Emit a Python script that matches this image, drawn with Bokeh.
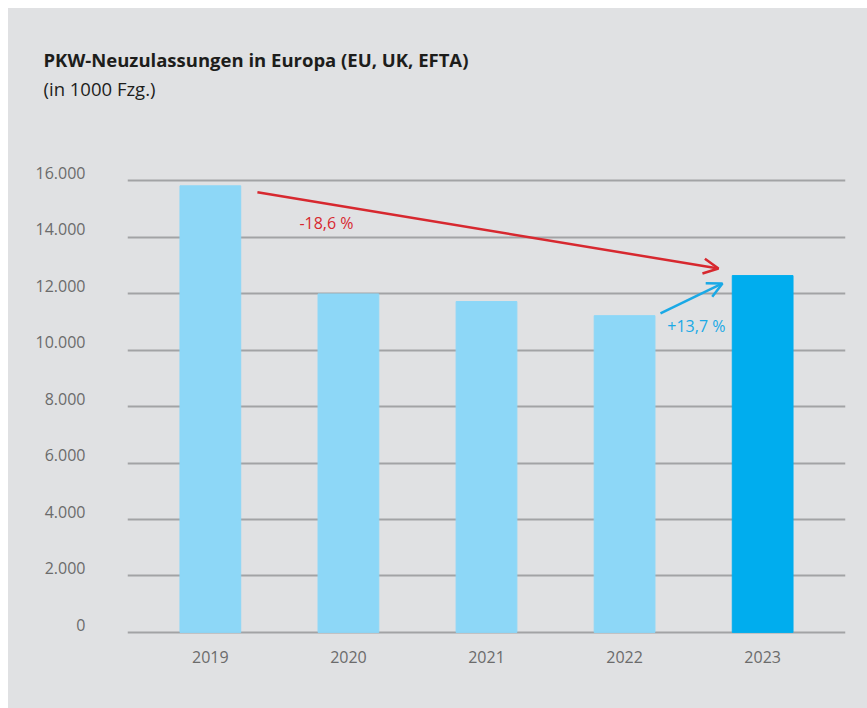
from bokeh.plotting import figure
from bokeh.models import Arrow, OpenHead, Label, FixedTicker, Range1d, ColumnDataSource, Title
from bokeh.embed import file_html
from bokeh.resources import INLINE

# --- data ---
years = ["2019", "2020", "2021", "2022", "2023"]
registrations = [15820, 11990, 11720, 11220, 12640]  # in 1000 vehicles
y_ticks = [0, 2000, 4000, 6000, 8000, 10000, 12000, 14000, 16000]
y_tick_labels = ["0", "2.000", "4.000", "6.000", "8.000", "10.000", "12.000", "14.000", "16.000"]
change_labels = ["-18,6 %", "+13,7 %"]

BG = "#e0e1e3"
LIGHT = "#8dd7f7"
DARK = "#00adee"
RED = "#d7282f"
BLUE = "#1aa9e6"
GREY_TXT = "#6b6b6b"
FONT = "Open Sans"

xs = list(range(len(years)))
colors = [LIGHT] * (len(years) - 1) + [DARK]
src = ColumnDataSource(dict(x=xs, top=registrations, color=colors))

p = figure(width=859, height=700, output_backend="svg", toolbar_location=None,
           title=None,
           x_range=Range1d(-0.6, 4.6), y_range=Range1d(-500, 17000),
           min_border_left=119, min_border_right=22, min_border_top=144,
           min_border_bottom=62)
p.styles = {"margin-left": "8px", "margin-top": "8px", "background-color": BG}
p.background_fill_color = BG
p.background_fill_alpha = 0
p.border_fill_color = BG
p.outline_line_color = None

p.vbar(x="x", top="top", bottom=0, width=0.44, color="color", source=src)

# axes
p.yaxis.ticker = FixedTicker(ticks=y_ticks)
p.yaxis.major_label_overrides = {t: lab + "\n" for t, lab in zip(y_ticks, y_tick_labels)}
p.yaxis.major_label_text_line_height = 0.7
p.xaxis.ticker = FixedTicker(ticks=xs)
p.xaxis.major_label_overrides = dict(zip(xs, years))
for ax in (p.xaxis, p.yaxis):
    ax.axis_line_color = None
    ax.major_tick_line_color = None
    ax.minor_tick_line_color = None
    ax.major_tick_out = 0
    ax.major_tick_in = 0
    ax.major_label_text_font = FONT
    ax.major_label_text_font_size = "16px"
    ax.major_label_text_color = GREY_TXT
p.yaxis.major_label_standoff = 42
p.xaxis.major_label_standoff = 4

p.xgrid.grid_line_color = None
p.ygrid.grid_line_color = "#a2a3a5"
p.ygrid.grid_line_width = 2

# arrows
p.add_layout(Arrow(end=OpenHead(size=15, line_color=RED, line_width=2.5),
                   x_start=0.341, y_start=15590, x_end=3.68, y_end=12890,
                   line_color=RED, line_width=2.5))
p.add_layout(Arrow(end=OpenHead(size=15, line_color=BLUE, line_width=2.5),
                   x_start=3.26, y_start=11300, x_end=3.709, y_end=12360,
                   line_color=BLUE, line_width=2.5))
p.add_layout(Label(x=0.841, y=14520, text=change_labels[0], text_color=RED,
                   text_font=FONT, text_font_size="16px", text_align="center",
                   text_baseline="middle"))
p.add_layout(Label(x=3.52, y=10840, text=change_labels[1], text_color=BLUE,
                   text_font=FONT, text_font_size="16px", text_align="center",
                   text_baseline="middle"))

# title & subtitle (trailing blank lines keep them away from the plot frame)
p.add_layout(Title(text="(in 1000 Fzg.)\n\n", align="left", offset=-84,
                   text_font=FONT, text_font_size="18.5px", text_font_style="normal",
                   text_color="#1d1d1b", standoff=4), "above")
p.add_layout(Title(text="PKW-Neuzulassungen in Europa (EU, UK, EFTA)", align="left",
                   offset=-84, text_font=FONT, text_font_size="18.5px",
                   text_font_style="bold", text_color="#1d1d1b", standoff=0), "above")

open("out.html", "w").write(file_html(p, INLINE))
